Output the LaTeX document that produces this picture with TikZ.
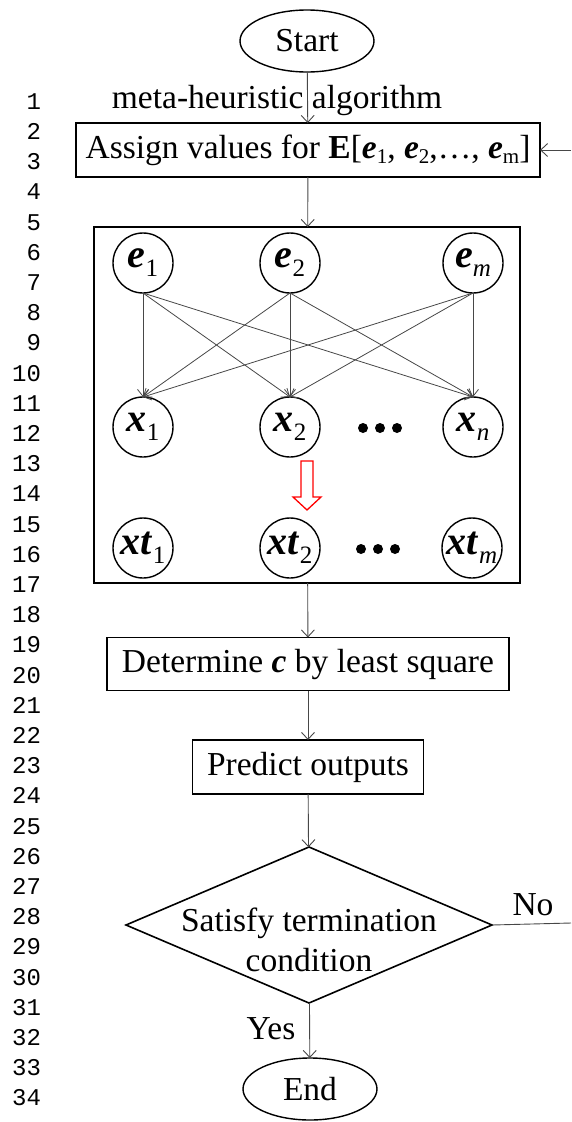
\documentclass[tikz,border=0pt]{standalone}
\usepackage{fontspec}
\setmainfont{Liberation Serif}
\setmonofont{Liberation Mono}
\usetikzlibrary{shapes.geometric,arrows.meta}
% bold italic variable names
\newcommand{\bv}[1]{\textbf{\textit{#1}}}
% subscript for the circle labels
\newcommand{\csub}[1]{\raisebox{-9pt}{\fontsize{25}{25}\selectfont #1}}
% subscript for the box label
\newcommand{\bsub}[1]{\raisebox{-5pt}{\fontsize{21}{21}\selectfont #1}}
\begin{document}
\begin{tikzpicture}[x=1pt,y=-1pt,
  font=\fontsize{33.5}{40}\selectfont,
  every node/.style={inner sep=0pt, outer sep=0pt},
  flow/.style={draw=black!72, line width=0.9pt, -{Straight Barb[length=7pt,width=13pt]}},
  plainline/.style={draw=black!72, line width=0.9pt},
  link/.style={draw=black!72, line width=0.8pt, -{Straight Barb[length=7pt,width=11pt]}},
  terminal/.style={ellipse, draw, line width=1.4pt, minimum width=134pt, minimum height=62pt},
  stepbox/.style={rectangle, draw, line width=1.8pt, minimum height=54pt},
  var/.style={circle, draw, line width=1.4pt, minimum size=60pt, inner sep=-12pt,
    font=\fontsize{40}{44}\selectfont},
  decision/.style={diamond, draw, line width=1.6pt, minimum width=366pt, minimum height=156pt},
  lineno/.style={anchor=mid east, font=\ttfamily\fontsize{24}{24}\selectfont},
]
\useasboundingbox (0,0) rectangle (571,1122);

% line numbers down the left margin
\foreach \i in {1,...,34}
  \node[lineno] (ln\i) at (41,{107+(\i-1)*30.2}) {\i};

% main flow
\node[terminal] (start) at (307,41) {Start};
\node[anchor=base] (meta) at (277,108) {meta-heuristic algorithm};
\node[stepbox, minimum width=464pt] (assign) at (308,150)
  {Assign values for \textbf{E}[\bv{e}\bsub{1}, \bv{e}\bsub{2},…, \bv{e}\bsub{m}]};

% network block
\node[rectangle, draw, line width=1.8pt, minimum width=426pt, minimum height=356pt] (net) at (307,405) {};
\node[var] (e1) at (143,263) {\bv{e}\csub{1}};
\node[var] (e2) at (290,263) {\bv{e}\csub{2}};
\node[var] (em) at (473,263) {\bv{e}\csub{\textit{m}}};
\node[var] (x1) at (143,427) {\bv{x}\csub{1}};
\node[var] (x2) at (290,427) {\bv{x}\csub{2}};
\node[var] (xn) at (473,427) {\bv{x}\csub{\textit{n}}};
\node[var] (xt1) at (143,548) {\bv{xt}\csub{1}};
\node[var] (xt2) at (290,548) {\bv{xt}\csub{2}};
\node[var] (xtm) at (472,548) {\bv{xt}\csub{\textit{m}}};

\foreach \s in {e1,e2,em}
  \foreach \t in {x1,x2,xn}
    \draw[link] (\s.south) -- (\t.north);

% ellipsis dots
\foreach \d in {363,380,397} \fill (\d,428) circle (5pt);
\foreach \d in {361,378,395} \fill (\d,549) circle (5pt);

% hollow red arrow from x2 to xt2
\draw[red, line width=1.3pt, line join=miter]
  (301,461) -- (313,461) -- (313,497) -- (321,497) -- (307,510)
  -- (293,497) -- (301,497) -- cycle;

\node[stepbox, minimum width=402pt, minimum height=53pt] (det) at (308,664)
  {Determine \bv{c} by least square};
\node[stepbox, minimum width=231pt] (pred) at (308,767) {Predict outputs};
\node[decision] (dec) at (309,925) {};
\node[align=center] (dectext) at (309,940) {Satisfy termination\\condition};
\node[terminal] (end) at (310,1089) {End};

\node[anchor=base] (yes) at (271,1039) {Yes};
\node[anchor=base] (no) at (533,915) {No};

\coordinate (loopin) at (571,150);
\coordinate (loopout) at (571,923);

\draw[flow] (start) -- (assign);
\draw[flow] (loopin) -- (assign.east);
\draw[flow] (assign) -- (net);
\draw[flow] (net) -- (det);
\draw[flow] (det) -- (pred);
\draw[flow] (pred) -- (dec);
\draw[flow] (dec) -- (end);
\draw[plainline] (dec.east) -- (loopout);
\end{tikzpicture}
\end{document}
